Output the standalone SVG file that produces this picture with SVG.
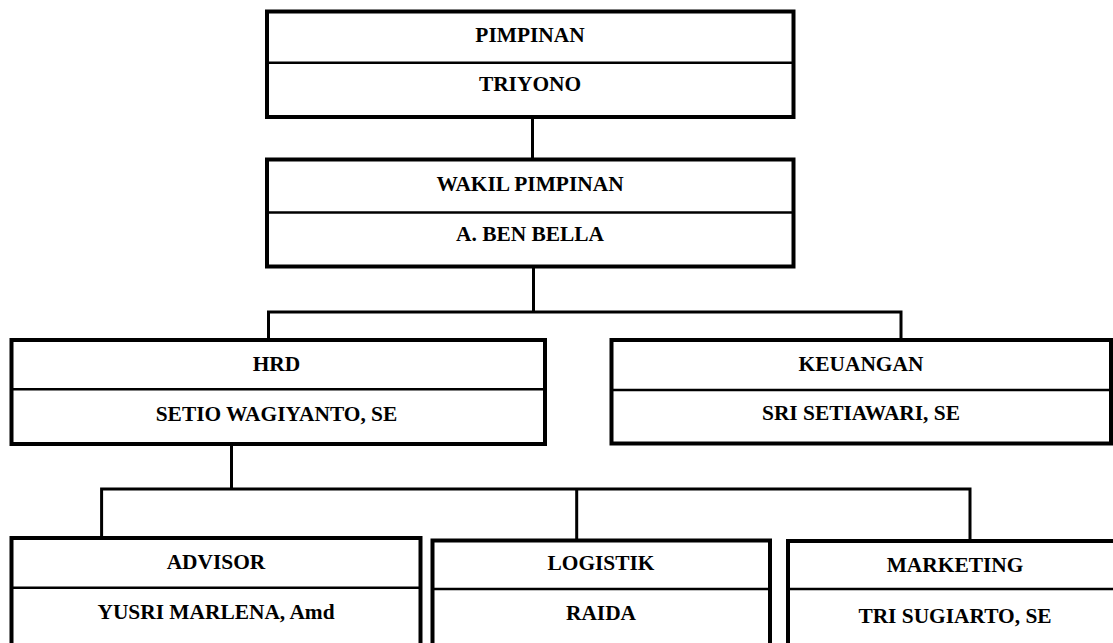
<svg xmlns="http://www.w3.org/2000/svg" width="1113" height="643" viewBox="0 0 1113 643">
<style>
.box{fill:#fff;stroke:#000;stroke-width:4}
.div{stroke:#000;stroke-width:2.5}
.t{font-family:"Liberation Serif","Times New Roman",serif;font-weight:bold;font-size:21.4px;text-anchor:middle;fill:#000}
.c{fill:none;stroke:#000;stroke-width:3}
</style>
<rect width="1113" height="643" fill="#fff"/>
<g id="connectors">
<path class="c" d="M532.5 117V159.5"/>
<path class="c" d="M533.5 266.5V312M268.5 340V312H901V340"/>
<path class="c" d="M231.5 444V489M101.6 538V489H970V541M576.7 489V540.5"/>
</g>
<g id="pimpinan">
<rect class="box" x="267" y="11.5" width="526.5" height="105.5"/>
<line class="div" x1="267" y1="62.7" x2="793.5" y2="62.7"/>
<text class="t" x="530" y="42">PIMPINAN</text>
<text class="t" x="530" y="91.3">TRIYONO</text>
</g>
<g id="wakil">
<rect class="box" x="267" y="159.5" width="526.5" height="107"/>
<line class="div" x1="267" y1="212.5" x2="793.5" y2="212.5"/>
<text class="t" x="530" y="190.6">WAKIL PIMPINAN</text>
<text class="t" x="530" y="240.6">A. BEN BELLA</text>
</g>
<g id="hrd">
<rect class="box" x="11.5" y="340" width="533.5" height="104"/>
<line class="div" x1="11.5" y1="389.3" x2="545" y2="389.3"/>
<text class="t" x="276.5" y="370.5">HRD</text>
<text class="t" x="276.5" y="421">SETIO WAGIYANTO, SE</text>
</g>
<g id="keuangan">
<rect class="box" x="611.5" y="340" width="499.5" height="103.5"/>
<line class="div" x1="611.5" y1="390" x2="1111" y2="390"/>
<text class="t" x="861" y="370.5">KEUANGAN</text>
<text class="t" x="861" y="420">SRI SETIAWARI, SE</text>
</g>
<g id="advisor">
<rect class="box" x="11.5" y="538" width="409" height="120"/>
<line class="div" x1="11.5" y1="587.7" x2="420.5" y2="587.7"/>
<text class="t" x="216" y="568.5">ADVISOR</text>
<text class="t" x="216" y="618.5">YUSRI MARLENA, Amd</text>
</g>
<g id="logistik">
<rect class="box" x="432.5" y="540.5" width="337.5" height="120"/>
<line class="div" x1="432.5" y1="589" x2="770" y2="589"/>
<text class="t" x="601" y="570.3">LOGISTIK</text>
<text class="t" x="601" y="620.3">RAIDA</text>
</g>
<g id="marketing">
<rect class="box" x="788" y="541" width="340" height="120"/>
<line class="div" x1="788" y1="589" x2="1128" y2="589"/>
<text class="t" x="955" y="572">MARKETING</text>
<text class="t" x="955" y="623">TRI SUGIARTO, SE</text>
</g>
</svg>
